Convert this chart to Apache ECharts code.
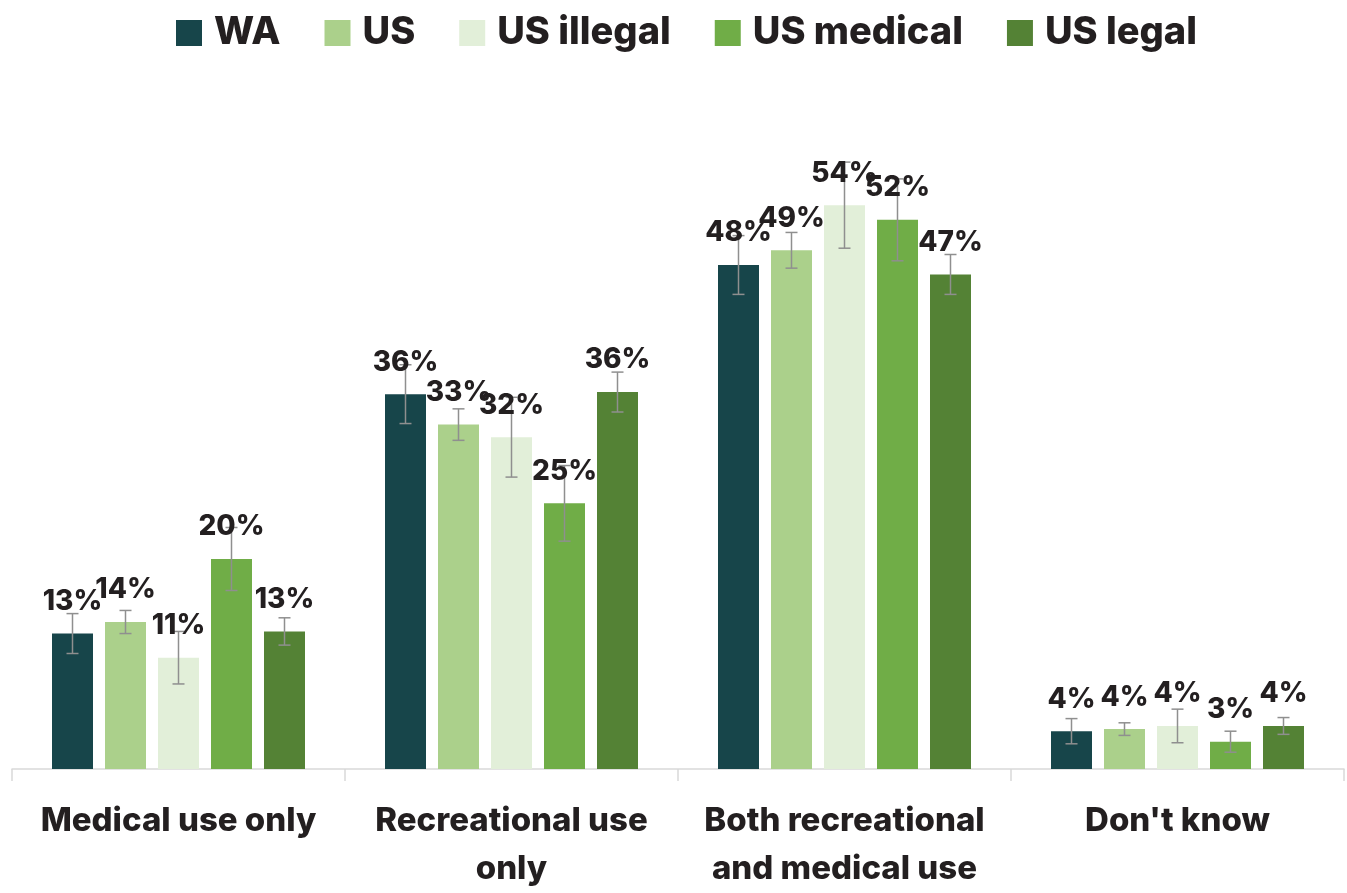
<!DOCTYPE html>
<html>
<head>
<meta charset="utf-8">
<script src="https://cdn.jsdelivr.net/npm/echarts@6/dist/echarts.min.js"></script>
<style>
html,body{margin:0;padding:0;background:#fff;}
#chart{width:1347px;height:893px;}
</style>
</head>
<body>
<div id="chart"></div>
<script>
// ---- data ----
const categories = ['Medical use only', 'Recreational use\nonly', 'Both recreational\nand medical use', "Don't know"];
const seriesNames = ['WA', 'US', 'US illegal', 'US medical', 'US legal'];
const wa        = [12.9, 35.7, 48.0, 3.6];
const us        = [14.0, 32.8, 49.4, 3.8];
const usIllegal = [10.6, 31.6, 53.7, 4.1];
const usMedical = [20.0, 25.3, 52.3, 2.6];
const usLegal   = [13.1, 35.9, 47.1, 4.1];
const waErr        = [1.9, 2.8, 2.8, 1.2];
const usErr        = [1.1, 1.5, 1.7, 0.6];
const usIllegalErr = [2.5, 3.8, 4.1, 1.6];
const usMedicalErr = [3.0, 3.6, 3.9, 1.0];
const usLegalErr   = [1.3, 1.9, 1.9, 0.8];

const values = [wa, us, usIllegal, usMedical, usLegal];
const errors = [waErr, usErr, usIllegalErr, usMedicalErr, usLegalErr];
const colors = ['#17454a', '#abd08b', '#e2efd9', '#70ad47', '#548235'];

const BAR_W = 41, GAP = 12;
const FONT = 'Inter';
const TEXT = '#231f20';

const chart = echarts.init(document.getElementById('chart'));

const series = [];
values.forEach((vals, i) => {
  series.push({
    name: seriesNames[i],
    type: 'bar',
    data: vals,
    barWidth: BAR_W,
    barGap: (GAP / BAR_W * 100) + '%',
    itemStyle: { color: colors[i] },
    z: 2
  });
});
values.forEach((vals, i) => {
  series.push({
    name: seriesNames[i],
    type: 'custom',
    z: 5,
    silent: true,
    data: vals.map((v, c) => [c, v, errors[i][c]]),
    renderItem: function (params, api) {
      const c = api.value(0), v = api.value(1), e = api.value(2);
      const off = (i - 2) * (BAR_W + GAP);
      const top = api.coord([c, v + e]);
      const bot = api.coord([c, v - e]);
      const mid = api.coord([c, v]);
      const x = top[0] + off;
      const cap = 6;
      const ls = { stroke: '#8f8f8f', lineWidth: 1.5 };
      return {
        type: 'group',
        children: [
          { type: 'line', shape: { x1: x, y1: top[1], x2: x, y2: bot[1] }, style: ls },
          { type: 'line', shape: { x1: x - cap, y1: top[1], x2: x + cap, y2: top[1] }, style: ls },
          { type: 'line', shape: { x1: x - cap, y1: bot[1], x2: x + cap, y2: bot[1] }, style: ls },
          { type: 'text', z2: 10, style: {
              x: x, y: mid[1] - 18, text: Math.round(v) + '%',
              align: 'center', verticalAlign: 'bottom',
              font: '800 28px ' + FONT, fill: TEXT } }
        ]
      };
    }
  });
});

chart.setOption({
  animation: false,
  legend: {
    data: seriesNames,
    top: 9,
    left: 171,
    icon: 'rect',
    itemWidth: 26,
    itemHeight: 26,
    itemGap: 44,
    textStyle: { fontFamily: FONT, fontWeight: 800, fontSize: 38, color: TEXT, padding: [0, 0, 0, 7] }
  },
  grid: { left: 12, right: 3, top: 139, bottom: 118, containLabel: false },
  xAxis: {
    type: 'category',
    data: categories,
    axisLine: { lineStyle: { color: '#d9d9d9', width: 1.5 } },
    axisTick: { show: true, length: 12, lineStyle: { color: '#d9d9d9', width: 1.5 } },
    axisLabel: { fontFamily: FONT, fontWeight: 800, fontSize: 33, color: TEXT, lineHeight: 48, margin: 28, interval: 0 }
  },
  yAxis: { type: 'value', min: 0, max: 60, show: false, splitLine: { show: false } },
  series: series
});
</script>
</body>
</html>
